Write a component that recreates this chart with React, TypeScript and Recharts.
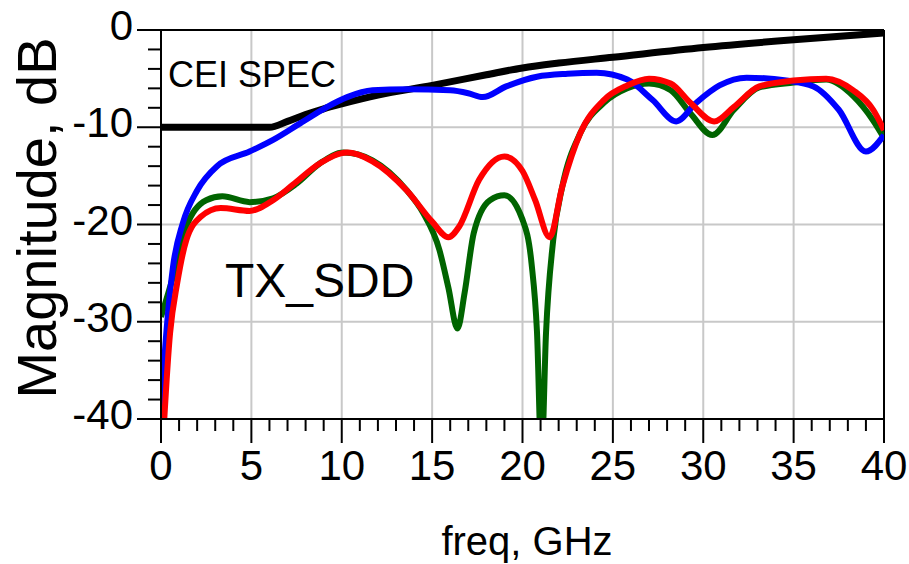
import { LineChart, Line, XAxis, YAxis, CartesianGrid, ReferenceLine } from "recharts";

const FONT = '"Liberation Sans", Arial, sans-serif';

// axis ticks (minor every 1 GHz / 2 dB, labels on the majors)
const xTicks = [
  0, 1, 2, 3, 4, 5, 6, 7, 8, 9, 10, 11, 12, 13, 14, 15, 16, 17, 18, 19, 20,
  21, 22, 23, 24, 25, 26, 27, 28, 29, 30, 31, 32, 33, 34, 35, 36, 37, 38, 39, 40,
];
const yTicks = [
  -40, -38, -36, -34, -32, -30, -28, -26, -24, -22, -20, -18, -16, -14, -12,
  -10, -8, -6, -4, -2, 0,
];
const gridFreq = [5, 10, 15, 20, 25, 30, 35];
const gridDb = [-30, -20, -10];

// CEI SPEC mask
const specFreq = [0, 6, 7, 8, 9, 10, 12, 15, 18, 20, 22, 25, 30, 35, 40];
const specDb = [-10, -10, -9.4, -8.7, -8.1, -7.6, -6.7, -5.7, -4.6, -3.9, -3.4, -2.8, -1.8, -1.0, -0.3];

// blue trace
const blueFreq = [
  0, 0.3, 0.66, 1.2, 2.0, 3.1, 4.9, 6.2, 7.7, 9.2, 10.3, 11.7, 13.6, 16.0,
  17.0, 17.8, 19.1, 20.8, 22.5, 24.1, 25.8, 27.2, 28.5, 29.6, 30.9, 32.4,
  34.6, 36.1, 37.5, 39.0, 40,
];
const blueDb = [
  -39, -31, -24.4, -19.9, -16.5, -14.0, -12.5, -11.3, -9.6, -7.9, -6.9, -6.2,
  -6.1, -6.2, -6.5, -6.9, -5.8, -4.8, -4.5, -4.4, -5.1, -7.2, -9.4, -7.5,
  -5.7, -4.9, -5.2, -5.8, -8.2, -12.5, -10.8,
];

// green trace
const greenFreq = [
  0, 0.66, 1.4, 2.5, 3.4, 4.9, 6.2, 7.5, 8.8, 10.1, 11.7, 13.6, 14.5, 15.4,
  15.9, 16.4, 16.8, 17.3, 18.2, 19.0, 20.0, 20.5, 20.8, 21.05, 21.3, 21.7,
  22.2, 23.2, 24.5, 25.8, 27.0, 28.2, 29.3, 30.5, 31.7, 33.1, 35.0, 36.8,
  38.3, 39.4, 40,
];
const greenDb = [
  -29.5, -25.4, -20.2, -17.5, -17.1, -17.7, -17.3, -15.8, -13.7, -12.6,
  -13.4, -16.5, -18.8, -22.6, -26.5, -30.7, -27, -20.9, -17.5, -17.0, -19.5,
  -24, -31, -44, -31.2, -21.6, -16.1, -10.6, -7.5, -6.0, -5.5, -6.2, -8.6,
  -10.8, -8.2, -5.9, -5.4, -5.1, -6.8, -9.3, -11.1,
];

// red trace
const redFreq = [
  0, 0.5, 0.9, 1.4, 2.2, 3.3, 4.9, 6.2, 7.3, 8.8, 10.3, 11.7, 13.6, 15.0,
  15.9, 16.5, 17.6, 19.0, 20.0, 20.7, 21.5, 22.2, 23.2, 24.5, 25.8, 27.0,
  28.2, 29.3, 30.6, 31.7, 33.1, 35.0, 36.8, 38.3, 39.4, 40,
];
const redDb = [
  -46, -31.2, -26, -21.6, -19.2, -18.3, -18.6, -17.5, -15.9, -13.7, -12.6,
  -13.5, -16.5, -19.7, -21.3, -20.2, -15.4, -13.0, -14.5, -17.5, -21.3,
  -16.1, -10.6, -7.2, -5.7, -5.0, -5.5, -7.5, -9.4, -7.9, -5.8, -5.2, -5.0,
  -6.2, -8.2, -10.3,
];

function zip(freq: number[], db: number[]) {
  return freq.map((f, i) => ({ f, v: db[i] }));
}

function XTick(props: any) {
  const { x, y, payload } = props;
  const major = payload.value % 5 === 0;
  return (
    <g>
      <line x1={x} x2={x} y1={y} y2={y + (major ? 24 : 12)} stroke="#000" strokeWidth={2} />
      {major ? (
        <text x={x} y={y + 61} textAnchor="middle" fontSize={42} fontFamily={FONT} fill="#000">
          {payload.value}
        </text>
      ) : null}
    </g>
  );
}

function YTick(props: any) {
  const { x, y, payload } = props;
  const major = payload.value % 10 === 0;
  return (
    <g>
      <line x1={x - (major ? 24 : 13)} x2={x} y1={y} y2={y} stroke="#000" strokeWidth={2} />
      {major ? (
        <text x={x - 28} y={y + 10} textAnchor="end" fontSize={42} fontFamily={FONT} fill="#000">
          {payload.value}
        </text>
      ) : null}
    </g>
  );
}

export default function App() {
  return (
    <div style={{ position: "relative", width: 909, height: 564, background: "#fff" }}>
      <style>{"body{margin:0}"}</style>
      <LineChart
        width={909}
        height={564}
        margin={{ top: 30, right: 25, left: 0, bottom: 0 }}
      >
        <CartesianGrid
          horizontalValues={gridDb}
          verticalValues={gridFreq}
          stroke="#c8c8c8"
          strokeWidth={2}
        />
        <XAxis
          type="number"
          dataKey="f"
          domain={[0, 40]}
          ticks={xTicks}
          interval={0}
          height={145}
          tickSize={0}
          tickMargin={0}
          tickLine={false}
          tick={<XTick />}
          axisLine={{ stroke: "#000", strokeWidth: 2 }}
          allowDataOverflow
        />
        <YAxis
          type="number"
          domain={[-40, 0]}
          ticks={yTicks}
          interval={0}
          width={161}
          tickSize={0}
          tickMargin={0}
          tickLine={false}
          tick={<YTick />}
          axisLine={{ stroke: "#000", strokeWidth: 2 }}
          allowDataOverflow
        />
        <ReferenceLine y={0} stroke="#000" strokeWidth={2} />
        <ReferenceLine x={40} stroke="#000" strokeWidth={2} />
        <Line
          data={zip(specFreq, specDb)}
          dataKey="v"
          type="monotone"
          stroke="#000"
          strokeWidth={7}
          dot={false}
          isAnimationActive={false}
        />
        <Line
          data={zip(greenFreq, greenDb)}
          dataKey="v"
          type="monotone"
          stroke="#006400"
          strokeWidth={6}
          dot={false}
          isAnimationActive={false}
        />
        <Line
          data={zip(blueFreq, blueDb)}
          dataKey="v"
          type="monotone"
          stroke="#0000ff"
          strokeWidth={6}
          dot={false}
          isAnimationActive={false}
        />
        <Line
          data={zip(redFreq, redDb)}
          dataKey="v"
          type="monotone"
          stroke="#ff0000"
          strokeWidth={6}
          dot={false}
          isAnimationActive={false}
        />
      </LineChart>
      <svg
        width={909}
        height={564}
        style={{ position: "absolute", left: 0, top: 0, pointerEvents: "none" }}
      >
        <text x={168} y={87} fontSize={36} fontFamily={FONT} fill="#000">
          CEI SPEC
        </text>
        <text x={225} y={297} fontSize={48} fontFamily={FONT} fill="#000">
          TX_SDD
        </text>
        <text
          x={56}
          y={218}
          transform="rotate(-90, 56, 218)"
          textAnchor="middle"
          fontSize={56}
          fontFamily={FONT}
          fill="#000"
        >
          Magnitude, dB
        </text>
        <text x={527} y={555} textAnchor="middle" fontSize={40} fontFamily={FONT} fill="#000">
          freq, GHz
        </text>
      </svg>
    </div>
  );
}
